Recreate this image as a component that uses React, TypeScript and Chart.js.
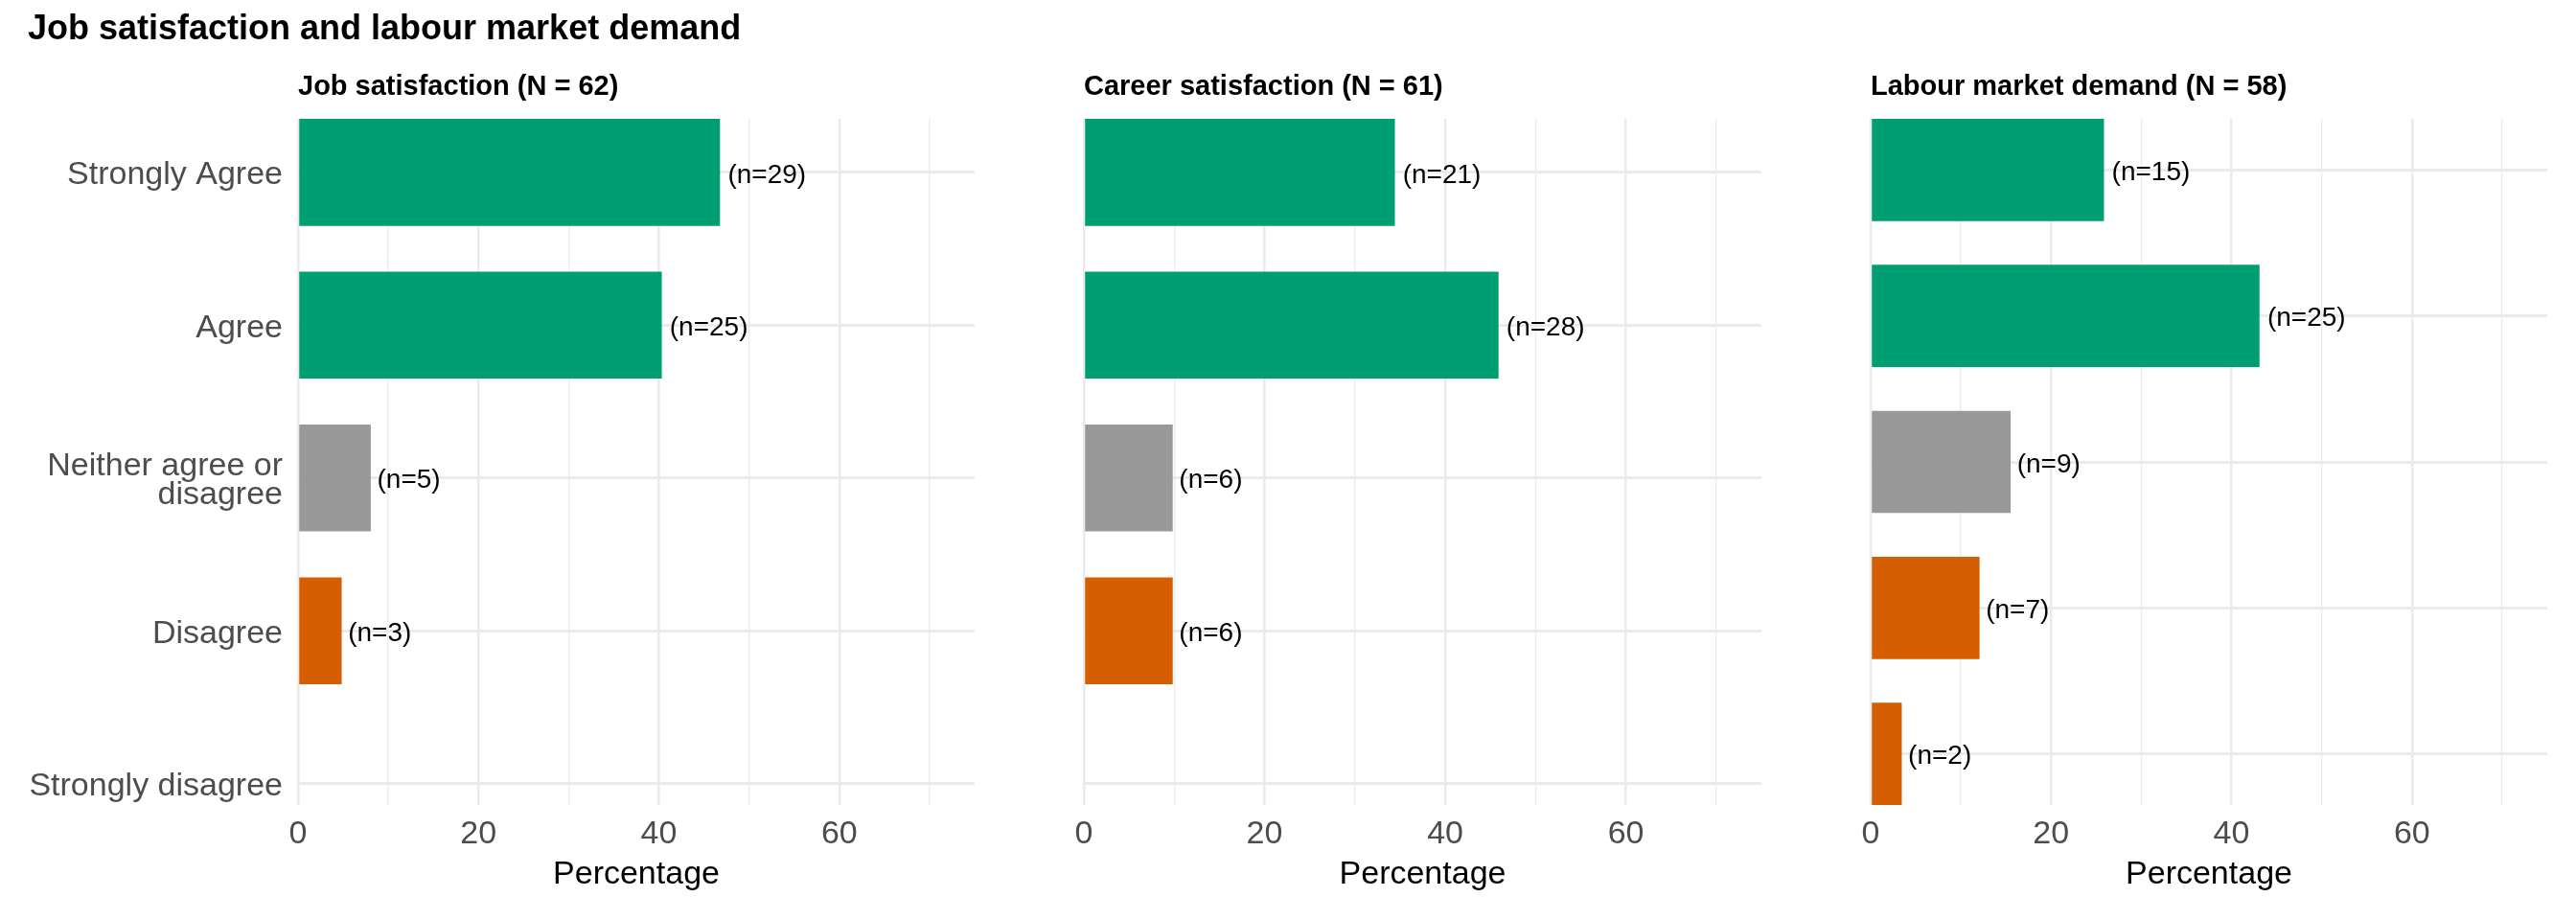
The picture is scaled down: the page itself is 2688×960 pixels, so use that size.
import React, { useEffect, useRef } from 'react';
import { Chart, registerables } from 'chart.js';

Chart.register(...registerables);

// ---- data ----
const chartTitle = 'Job satisfaction and labour market demand';
const axisTitle = 'Percentage';

const categories: (string | string[])[] = [
  'Strongly Agree',
  'Agree',
  ['Neither agree or', 'disagree'],
  'Disagree',
  'Strongly disagree',
];
const categoryColors = ['#009E73', '#009E73', '#999999', '#D55E00', '#D55E00'];

const panelTitles = [
  'Job satisfaction (N = 62)',
  'Career satisfaction (N = 61)',
  'Labour market demand (N = 58)',
];
const panelTotals = [62, 61, 58];

const jobCounts = [29, 25, 5, 3, 0];
const careerCounts = [21, 28, 6, 6, 0];
const demandCounts = [15, 25, 9, 7, 2];
const panelCounts = [jobCounts, careerCounts, demandCounts];

const xTickLabels = [0, 20, 40, 60];

// ---- layout / style ----
const FONT = '"Liberation Sans", Arial, Helvetica, sans-serif';
const GRID = '#EBEBEB';
const TICK_COLOR = '#4D4D4D';
const HEIGHT = 960;

const panelLayout = [
  { left: 0, width: 1040, padLeft: 0, yAxisWidth: 311, padRight: 23, yMax: 4.14, showY: true, mainTitle: true },
  { left: 1040, width: 820, padLeft: 91, yAxisWidth: 0, padRight: 22, yMax: 4.14, showY: false, mainTitle: false },
  { left: 1860, width: 828, padLeft: 92, yAxisWidth: 0, padRight: 30, yMax: 4.35, showY: false, mainTitle: false },
];

function buildConfig(i: number): any {
  const layout = panelLayout[i];
  const counts = panelCounts[i];
  const total = panelTotals[i];

  const textPlugin = {
    id: 'panelText',
    afterDatasetsDraw(chart: any) {
      const ctx = chart.ctx;
      const meta = chart.getDatasetMeta(0);
      ctx.save();
      // count labels next to the bars
      ctx.font = `28px ${FONT}`;
      ctx.fillStyle = '#000000';
      ctx.textAlign = 'left';
      ctx.textBaseline = 'middle';
      meta.data.forEach((bar: any, k: number) => {
        const n = counts[k];
        if (!n) return;
        const text = `(n=${n})`;
        const w = ctx.measureText(text).width;
        ctx.fillText(text, bar.x + 0.1 * w, bar.y + 3);
      });
      // facet title
      ctx.textBaseline = 'alphabetic';
      ctx.font = `bold 29px ${FONT}`;
      ctx.fillText(panelTitles[i], chart.chartArea.left, 99);
      // overall title
      if (layout.mainTitle) {
        ctx.font = `bold 36px ${FONT}`;
        ctx.fillText(chartTitle, 29, 41);
      }
      ctx.restore();
    },
  };

  return {
    type: 'bar',
    data: {
      datasets: [
        {
          data: counts.map((c, k) => ({ x: (c / total) * 100, y: k })),
          backgroundColor: categoryColors,
          borderWidth: 0,
          barPercentage: 0.7,
          categoryPercentage: 1,
        },
      ],
    },
    options: {
      indexAxis: 'y',
      animation: false,
      responsive: false,
      devicePixelRatio: 1,
      layout: {
        padding: { top: 124, bottom: 0, left: layout.padLeft, right: layout.padRight },
      },
      plugins: {
        legend: { display: false },
        tooltip: { enabled: false },
        title: { display: false },
      },
      scales: {
        x: {
          type: 'linear',
          position: 'bottom',
          min: 0,
          max: 75,
          border: { display: false },
          grid: {
            color: GRID,
            drawTicks: false,
            lineWidth: (ctx: any) => (ctx.tick && ctx.tick.value % 20 === 0 ? 2.5 : 1.3),
          },
          ticks: {
            stepSize: 10,
            includeBounds: false,
            autoSkip: false,
            maxRotation: 0,
            minRotation: 0,
            padding: 10,
            color: TICK_COLOR,
            font: { family: FONT, size: 34, lineHeight: 1.2 },
            callback: (v: number) => (xTickLabels.includes(v) ? String(v) : ''),
          },
          title: {
            display: true,
            text: axisTitle,
            color: '#000000',
            font: { family: FONT, size: 34, lineHeight: 1.2 },
            padding: { top: 0, bottom: 27 },
          },
          afterFit: (scale: any) => {
            scale.height = 120;
          },
        },
        y: {
          type: 'linear',
          position: 'left',
          reverse: true,
          offset: false,
          min: -0.35,
          max: layout.yMax,
          border: { display: false },
          grid: {
            color: GRID,
            lineWidth: 3,
            drawTicks: false,
            offset: false,
          },
          ticks: {
            display: layout.showY,
            stepSize: 1,
            includeBounds: false,
            autoSkip: false,
            padding: 16,
            labelOffset: 3,
            color: TICK_COLOR,
            font: { family: FONT, size: 34, lineHeight: 0.9 },
            callback: (v: number) => (Number.isInteger(v) && categories[v] !== undefined ? categories[v] : ''),
          },
          afterFit: (scale: any) => {
            scale.width = layout.yAxisWidth;
          },
        },
      },
    },
    plugins: [textPlugin],
  };
}

export default function App() {
  const ref0 = useRef<HTMLCanvasElement | null>(null);
  const ref1 = useRef<HTMLCanvasElement | null>(null);
  const ref2 = useRef<HTMLCanvasElement | null>(null);
  const refs = [ref0, ref1, ref2];

  useEffect(() => {
    const charts = refs.map((r, i) => new Chart(r.current as HTMLCanvasElement, buildConfig(i)));
    return () => charts.forEach((c) => c.destroy());
  }, []);

  return (
    <div
      style={{
        position: 'absolute',
        left: 0,
        top: 0,
        width: 2688,
        height: HEIGHT,
        background: '#ffffff',
        overflow: 'hidden',
      }}
    >
      {panelLayout.map((p, i) => (
        <canvas
          key={i}
          ref={refs[i]}
          width={p.width}
          height={HEIGHT}
          style={{ position: 'absolute', left: p.left, top: 0, width: p.width, height: HEIGHT }}
        />
      ))}
    </div>
  );
}
